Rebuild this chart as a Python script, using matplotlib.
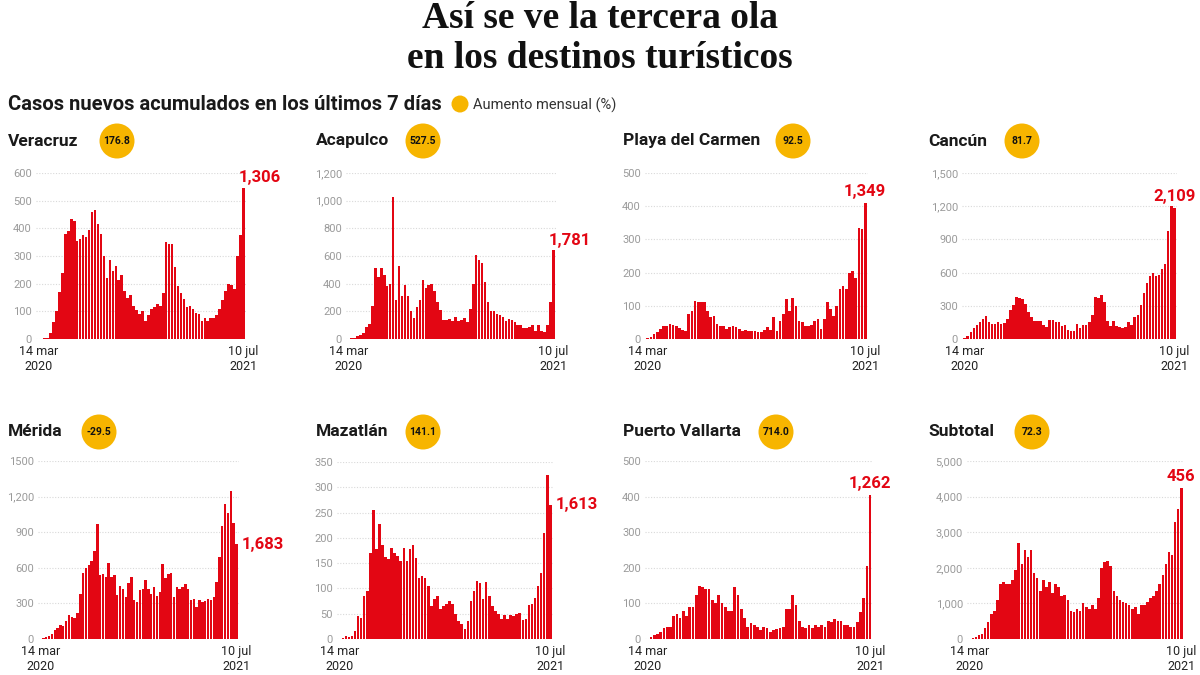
import matplotlib.pyplot as plt
from matplotlib.patches import Ellipse
import numpy as np

plt.rcParams['font.family'] = ['Roboto', 'DejaVu Sans']

# ---------- Data (weekly new cases, 14 mar 2020 - 10 jul 2021) ----------
names = ["Veracruz", "Acapulco", "Playa del Carmen", "Cancún",
         "Mérida", "Mazatlán", "Puerto Vallarta", "Subtotal"]
monthly_rise = ["176.8", "527.5", "92.5", "81.7", "-29.5", "141.1", "714.0", "72.3"]
last_labels = ["1,306", "1,781", "1,349", "2,109", "1,683", "1,613", "1,262", "456"]

veracruz = [1, 1, 2, 5, 20, 60, 100, 170, 240, 380, 390, 435, 425, 355, 360, 375, 370, 395,
            460, 465, 415, 380, 300, 220, 285, 245, 265, 215, 230, 175, 150, 160, 120, 105,
            90, 100, 65, 85, 110, 115, 125, 120, 165, 350, 345, 345, 260, 190, 165, 145, 115,
            120, 110, 95, 90, 65, 75, 65, 75, 75, 85, 110, 140, 175, 200, 195, 180, 300, 375, 545]
acapulco = [2, 5, 10, 20, 30, 45, 90, 110, 240, 510, 450, 510, 460, 380, 400, 1030, 280, 530,
            310, 390, 310, 200, 150, 230, 280, 430, 370, 390, 400, 350, 270, 210, 140, 135, 145,
            130, 160, 130, 140, 150, 120, 220, 400, 610, 570, 550, 410, 270, 200, 200, 180, 170,
            160, 130, 145, 140, 120, 100, 100, 80, 80, 85, 100, 60, 100, 60, 50, 100, 270, 640]
playa = [2, 5, 15, 20, 30, 40, 40, 45, 42, 38, 32, 28, 25, 75, 85, 115, 112, 112, 112, 85, 65,
         68, 45, 40, 38, 30, 35, 38, 35, 30, 25, 28, 25, 25, 25, 22, 22, 28, 35, 28, 65, 25, 55,
         75, 120, 85, 125, 100, 55, 50, 38, 40, 42, 55, 60, 30, 60, 110, 90, 70, 100, 150, 160,
         150, 200, 205, 185, 335, 330, 410]
cancun = [5, 30, 60, 100, 130, 150, 180, 210, 150, 135, 140, 150, 140, 145, 180, 260, 310, 380,
          375, 360, 320, 240, 200, 160, 165, 160, 130, 110, 170, 175, 150, 150, 120, 130, 80, 75,
          75, 140, 100, 130, 130, 150, 220, 380, 370, 400, 330, 160, 120, 160, 120, 110, 100,
          110, 150, 130, 200, 220, 310, 420, 510, 570, 600, 570, 580, 630, 680, 980, 1200, 1180]
merida = [2, 5, 20, 25, 40, 80, 90, 120, 110, 150, 200, 185, 175, 220, 380, 560, 600, 620, 660,
          740, 970, 540, 550, 520, 640, 520, 540, 370, 450, 420, 350, 470, 520, 330, 310, 410,
          420, 500, 420, 380, 440, 360, 400, 630, 510, 550, 560, 350, 440, 420, 440, 460, 420,
          330, 340, 270, 330, 310, 320, 340, 330, 350, 480, 690, 950, 1140, 1060, 1250, 980, 800]
mazatlan = [0, 1, 5, 4, 5, 15, 45, 42, 85, 95, 170, 255, 178, 228, 185, 162, 158, 180, 170, 165,
            155, 180, 155, 178, 185, 160, 120, 125, 120, 105, 65, 80, 85, 60, 65, 70, 75, 70, 50,
            35, 30, 20, 35, 75, 95, 115, 110, 80, 112, 85, 65, 55, 50, 40, 48, 40, 48, 45, 50,
            52, 38, 40, 68, 70, 82, 105, 130, 210, 325, 265]
vallarta = [1, 5, 10, 15, 20, 30, 35, 35, 65, 70, 60, 80, 65, 90, 90, 125, 150, 145, 140, 140,
            110, 100, 125, 100, 90, 80, 78, 145, 125, 85, 60, 35, 45, 40, 35, 25, 35, 30, 20, 25,
            28, 30, 35, 85, 85, 125, 95, 50, 35, 30, 40, 30, 40, 35, 40, 35, 50, 48, 55, 50, 50,
            40, 38, 35, 35, 48, 75, 115, 205, 405]
subtotal = [5, 20, 50, 100, 150, 300, 480, 700, 800, 1100, 1550, 1600, 1550, 1550, 1650, 1950,
            2700, 2100, 2500, 2300, 2500, 1850, 1700, 1350, 1650, 1450, 1600, 1300, 1550, 1450,
            1200, 1250, 1100, 800, 750, 850, 800, 1000, 900, 850, 950, 850, 1150, 2000, 2150,
            2200, 2050, 1350, 1200, 1100, 1050, 1000, 950, 850, 900, 700, 950, 950, 1050, 1150,
            1200, 1350, 1550, 1800, 2100, 2450, 2350, 3300, 3650, 4250]
series = [veracruz, acapulco, playa, cancun, merida, mazatlan, vallarta, subtotal]

yticks = [[0, 100, 200, 300, 400, 500, 600],
          [0, 200, 400, 600, 800, 1000, 1200],
          [0, 100, 200, 300, 400, 500],
          [0, 300, 600, 900, 1200, 1500],
          [0, 300, 600, 900, 1200, 1500],
          [0, 50, 100, 150, 200, 250, 300, 350],
          [0, 100, 200, 300, 400, 500],
          [0, 1000, 2000, 3000, 4000, 5000]]
ytick_labels = [["0", "100", "200", "300", "400", "500", "600"],
                ["0", "200", "400", "600", "800", "1,000", "1,200"],
                ["0", "100", "200", "300", "400", "500"],
                ["0", "300", "600", "900", "1,200", "1,500"],
                ["0", "300", "600", "900", "1,200", "1500"],
                ["0", "50", "100", "150", "200", "250", "300", "350"],
                ["0", "100", "200", "300", "400", "500"],
                ["0", "1,000", "2,000", "3,000", "4,000", "5,000"]]
date_labels = ["14 mar\n2020", "10 jul\n2021"]

# ---------- Layout (pixels) ----------
W, H = 1200, 675
RED = "#e30613"
YELLOW = "#f7b500"
# axes: left, right, zero line y, top tick y
boxes = [(36, 246, 339, 173), (346, 556, 339, 173), (645, 868, 339, 173), (962, 1177, 339, 173),
         (38, 239, 639, 461), (337, 553, 639, 462), (645, 873, 639, 461), (967, 1184, 639, 461)]
name_pos = [(8, 141), (316, 141), (623, 141), (928, 141),
            (8, 432), (316, 432), (623, 432), (928, 432)]
badge_x = [117, 423, 793, 1022, 99, 423, 776, 1032]
# last-value label placement: (ha, dx, dy, va)
lab_style = [("left", -3, 2, "bottom"), ("left", -3, 2, "bottom"), ("center", 0, 3, "bottom"),
             ("center", 0, 3, "bottom"), ("left", 4, 0, "center"), ("left", 4, 0, "center"),
             ("center", 0, 3, "bottom"), ("center", 0, 3, "bottom")]

fig = plt.figure(figsize=(12, 6.75), dpi=100)
fig.patch.set_facecolor("white")

def fx(px):
    return px / W

def fy(py):
    return 1 - py / H

# --- Titles ---
fig.text(0.5, fy(18), "Así se ve la tercera ola", ha="center", va="center",
         fontfamily="Liberation Serif", fontweight="bold", fontsize=27, color="#111111")
fig.text(0.5, fy(58), "en los destinos turísticos", ha="center", va="center",
         fontfamily="Liberation Serif", fontweight="bold", fontsize=27, color="#111111")
fig.text(fx(8), fy(105), "Casos nuevos acumulados en los últimos 7 días", ha="left", va="center",
         fontsize=14.5, fontweight="bold", color="#1a1a1a")
fig.patches.append(Ellipse((fx(460), fy(104)), 17 / W, 17 / H, transform=fig.transFigure,
                           facecolor=YELLOW, edgecolor="none"))
fig.text(fx(473), fy(105), "Aumento mensual (%)", ha="left", va="center", fontsize=10.5,
         color="#333333")

# --- Panels ---
for i, vals in enumerate(series):
    left, right, y0, ytop = boxes[i]
    ax = fig.add_axes([fx(left), fy(y0), (right - left) / W, (y0 - ytop) / H])
    x = np.arange(len(vals))
    ax.bar(x, vals, width=0.85, color=RED, edgecolor="none", zorder=2)
    ax.set_xlim(-0.9, len(vals) - 0.1)
    ax.set_ylim(0, yticks[i][-1])
    ax.set_yticks(yticks[i])
    ax.set_yticklabels(ytick_labels[i])
    ax.set_xticks([0, len(vals) - 1])
    ax.set_xticklabels(date_labels, fontsize=9, color="#222222", linespacing=1.25)
    ax.tick_params(axis="both", length=0)
    ax.tick_params(axis="y", labelsize=8, labelcolor="#9a9a9a", pad=3)
    ax.tick_params(axis="x", pad=4)
    ax.grid(axis="y", color="#d9d9d9", linestyle=(0, (1, 1.5)), linewidth=0.8, zorder=0)
    for s in ax.spines.values():
        s.set_visible(False)
    ax.set_facecolor("none")

    ha, dx, dy, va = lab_style[i]
    ax.annotate(last_labels[i], (len(vals) - 1, vals[-1]), xytext=(dx, dy),
                textcoords="offset points", ha=ha, va=va, fontsize=12, fontweight="bold",
                color=RED, annotation_clip=False)

    nx, ny = name_pos[i]
    fig.text(fx(nx), fy(ny), names[i], ha="left", va="center", fontsize=12.5,
             fontweight="bold", color="#1a1a1a")
    fig.patches.append(Ellipse((fx(badge_x[i]), fy(ny)), 35 / W, 35 / H,
                               transform=fig.transFigure, facecolor=YELLOW, edgecolor="none"))
    fig.text(fx(badge_x[i]), fy(ny), monthly_rise[i], ha="center", va="center",
             fontsize=7.5, fontweight="bold", color="#111111")

fig.savefig("out.png", dpi=100, facecolor="white")
